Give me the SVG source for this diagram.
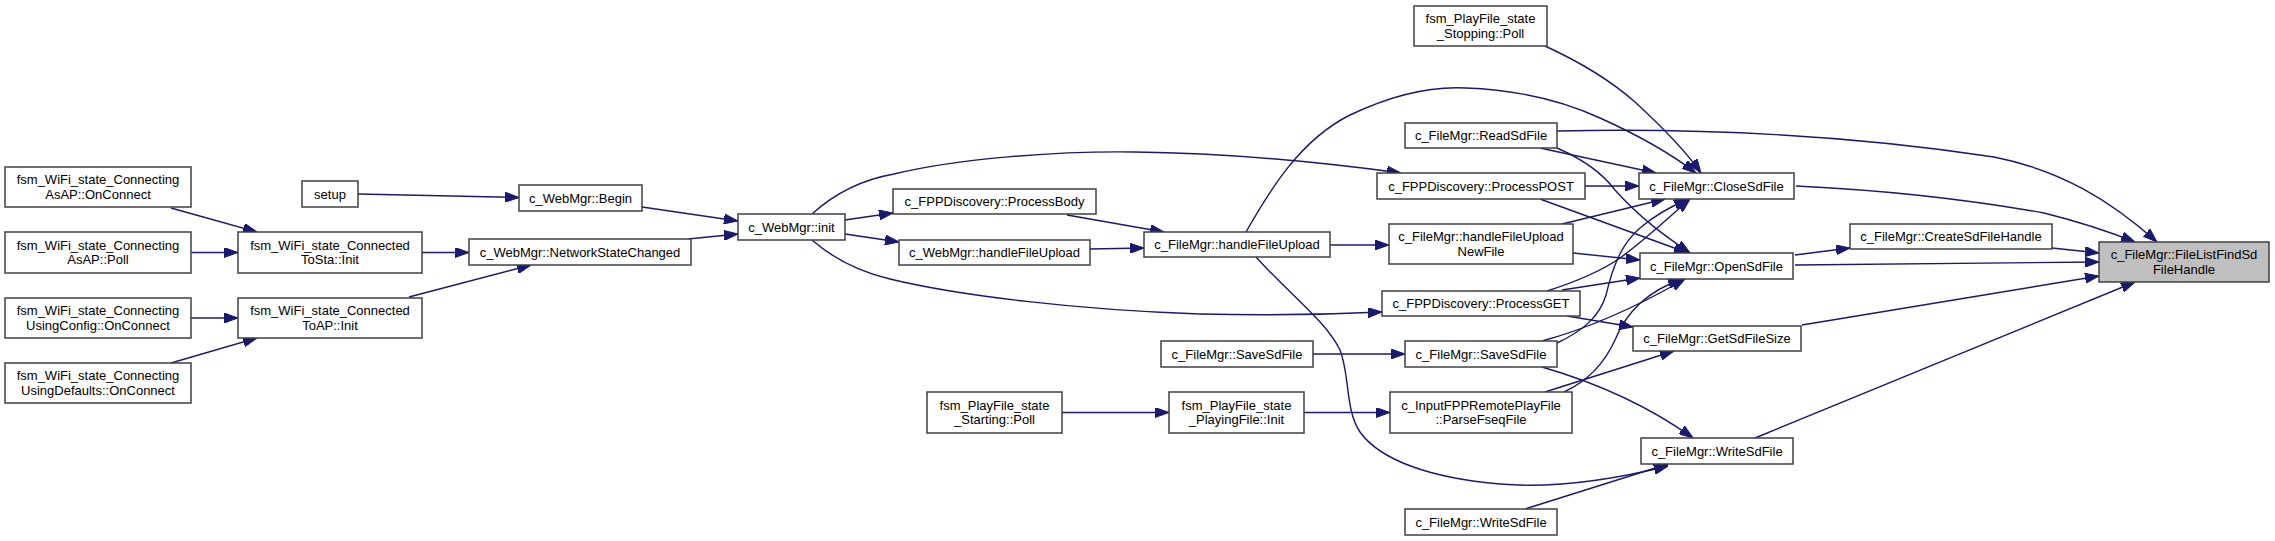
<svg xmlns="http://www.w3.org/2000/svg" width="2275" height="541" viewBox="0 0 2275 541">
<style>
.n rect{fill:#fff;stroke:#404040;stroke-width:1.5}
.n.t rect{fill:#bfbfbf}
.n text{font-family:"Liberation Sans",Arial,sans-serif;font-size:13px;text-anchor:middle;fill:#000}
#edges path{fill:none;stroke:#191970;stroke-width:1.4;marker-end:url(#ah)}
</style>
<defs>
<marker id="ah" markerWidth="14" markerHeight="10" refX="14" refY="5" orient="auto" markerUnits="userSpaceOnUse">
<path d="M0,0 L14,5 L0,10 z" fill="#191970" stroke="#191970" stroke-width="1"/>
</marker>
</defs>
<rect width="2275" height="541" fill="#fff"/>
<g id="edges">
<path d="M171,208 L257,232"/>
<path d="M191,252.5 L238,252.5"/>
<path d="M191,318 L238,318"/>
<path d="M171,363 L257,338"/>
<path d="M358,194 L519,197.5"/>
<path d="M422,252.5 L469,252.5"/>
<path d="M409,297 L531,265"/>
<path d="M642,207 L738,221"/>
<path d="M688,239 L738,234"/>
<path d="M845,220 L893,213"/>
<path d="M845,234 L899,242"/>
<path d="M812,214 C835,193 860,180 894,174 C960,158 1060,151 1134,152 C1230,153 1320,162 1401,173"/>
<path d="M812,240 C835,260 860,272 890,279 C960,296 1080,310 1200,314 C1280,316 1340,314 1382,312"/>
<path d="M1067,215 L1164,232"/>
<path d="M1090,249 L1144,248"/>
<path d="M1330,245 L1389,245"/>
<path d="M1246,232 C1270,190 1300,140 1350,115 C1390,96 1430,86 1466,88 C1520,90 1565,102 1600,118 C1640,136 1670,153 1696,173"/>
<path d="M1256,257 C1290,295 1325,320 1340,350 C1350,375 1345,410 1360,432 C1380,460 1430,478 1500,484 C1560,489 1620,478 1668,466"/>
<path d="M1562,224 L1665,199"/>
<path d="M1573,253 L1640,260"/>
<path d="M1540,148 L1656,173"/>
<path d="M1557,148 C1580,158 1600,170 1615,190 C1640,218 1665,236 1690,253"/>
<path d="M1557,131 C1700,128 1850,135 1994,157 C2060,170 2110,200 2157,242"/>
<path d="M1585,186 L1639,186"/>
<path d="M1540,199 L1688,253"/>
<path d="M1545,46 C1580,62 1610,80 1635,102 C1660,125 1685,150 1701,173"/>
<path d="M1562,290 L1640,278"/>
<path d="M1547,291 C1575,282 1600,272 1620,258 C1645,240 1668,218 1690,199"/>
<path d="M1567,316 L1633,327"/>
<path d="M1542,341 C1590,328 1640,305 1685,279"/>
<path d="M1557,343 C1585,330 1600,315 1606,295 C1612,270 1620,245 1640,228 C1655,215 1672,206 1688,199"/>
<path d="M1542,367 C1580,378 1640,400 1693,438"/>
<path d="M1545,392 L1674,351"/>
<path d="M1564,392 C1590,380 1605,362 1615,340 C1625,315 1645,292 1682,279"/>
<path d="M1313,354 L1405,354"/>
<path d="M1062,412.5 L1169,412.5"/>
<path d="M1304,412.5 L1390,412.5"/>
<path d="M1525,509 L1668,464"/>
<path d="M1796,186 C1880,190 1960,198 2044,213 C2080,222 2110,232 2135,242"/>
<path d="M1795,255 L1850,248"/>
<path d="M1795,265 L2099,262"/>
<path d="M2052,248 L2099,253"/>
<path d="M1802,325 L2099,276"/>
<path d="M1755,438 L2135,282"/>
</g>
<g id="n_asap_oc" class="n"><rect x="5" y="167" width="186" height="40"/><text x="98" y="184">fsm_WiFi_state_Connecting</text><text x="98" y="198.5">AsAP::OnConnect</text></g>
<g id="n_asap_poll" class="n"><rect x="5" y="232" width="186" height="41"/><text x="98" y="249.5">fsm_WiFi_state_Connecting</text><text x="98" y="264">AsAP::Poll</text></g>
<g id="n_cfg_oc" class="n"><rect x="5" y="298" width="186" height="40"/><text x="98" y="315">fsm_WiFi_state_Connecting</text><text x="98" y="329.5">UsingConfig::OnConnect</text></g>
<g id="n_def_oc" class="n"><rect x="5" y="363" width="186" height="40"/><text x="98" y="380">fsm_WiFi_state_Connecting</text><text x="98" y="394.5">UsingDefaults::OnConnect</text></g>
<g id="n_tosta" class="n"><rect x="238" y="232" width="184" height="41"/><text x="330" y="249.5">fsm_WiFi_state_Connected</text><text x="330" y="264">ToSta::Init</text></g>
<g id="n_toap" class="n"><rect x="238" y="298" width="184" height="40"/><text x="330" y="315">fsm_WiFi_state_Connected</text><text x="330" y="329.5">ToAP::Init</text></g>
<g id="n_setup" class="n"><rect x="302" y="181" width="56" height="26"/><text x="330" y="198.5">setup</text></g>
<g id="n_begin" class="n"><rect x="519" y="185" width="123" height="26"/><text x="580.5" y="202.5">c_WebMgr::Begin</text></g>
<g id="n_nsc" class="n"><rect x="469" y="239" width="222" height="26"/><text x="580" y="256.5">c_WebMgr::NetworkStateChanged</text></g>
<g id="n_init" class="n"><rect x="738" y="214" width="107" height="26"/><text x="791.5" y="231.5">c_WebMgr::init</text></g>
<g id="n_pbody" class="n"><rect x="893" y="189" width="203" height="25"/><text x="994.5" y="206">c_FPPDiscovery::ProcessBody</text></g>
<g id="n_wm_hfu" class="n"><rect x="899" y="240" width="191" height="25"/><text x="994.5" y="257">c_WebMgr::handleFileUpload</text></g>
<g id="n_fm_hfu" class="n"><rect x="1144" y="232" width="186" height="25"/><text x="1237" y="249">c_FileMgr::handleFileUpload</text></g>
<g id="n_stopping" class="n"><rect x="1414" y="6" width="133" height="40"/><text x="1480.5" y="23">fsm_PlayFile_state</text><text x="1480.5" y="37.5">_Stopping::Poll</text></g>
<g id="n_read" class="n"><rect x="1405" y="123" width="152" height="25"/><text x="1481" y="140">c_FileMgr::ReadSdFile</text></g>
<g id="n_post" class="n"><rect x="1377" y="173" width="208" height="26"/><text x="1481" y="190.5">c_FPPDiscovery::ProcessPOST</text></g>
<g id="n_hfunf" class="n"><rect x="1389" y="224" width="184" height="40"/><text x="1481" y="241">c_FileMgr::handleFileUpload</text><text x="1481" y="255.5">NewFile</text></g>
<g id="n_get" class="n"><rect x="1382" y="291" width="198" height="25"/><text x="1481" y="308">c_FPPDiscovery::ProcessGET</text></g>
<g id="n_save_l" class="n"><rect x="1161" y="341" width="152" height="26"/><text x="1237" y="358.5">c_FileMgr::SaveSdFile</text></g>
<g id="n_save" class="n"><rect x="1405" y="341" width="152" height="26"/><text x="1481" y="358.5">c_FileMgr::SaveSdFile</text></g>
<g id="n_starting" class="n"><rect x="927" y="392" width="135" height="41"/><text x="994.5" y="409.5">fsm_PlayFile_state</text><text x="994.5" y="424">_Starting::Poll</text></g>
<g id="n_playing" class="n"><rect x="1169" y="392" width="135" height="41"/><text x="1236.5" y="409.5">fsm_PlayFile_state</text><text x="1236.5" y="424">_PlayingFile::Init</text></g>
<g id="n_parse" class="n"><rect x="1390" y="392" width="182" height="41"/><text x="1481" y="409.5">c_InputFPPRemotePlayFile</text><text x="1481" y="424">::ParseFseqFile</text></g>
<g id="n_write_l" class="n"><rect x="1405" y="509" width="152" height="26"/><text x="1481" y="526.5">c_FileMgr::WriteSdFile</text></g>
<g id="n_close" class="n"><rect x="1639" y="173" width="155" height="26"/><text x="1716.5" y="190.5">c_FileMgr::CloseSdFile</text></g>
<g id="n_open" class="n"><rect x="1640" y="253" width="153" height="26"/><text x="1716.5" y="270.5">c_FileMgr::OpenSdFile</text></g>
<g id="n_getsize" class="n"><rect x="1633" y="326" width="168" height="25"/><text x="1717" y="343">c_FileMgr::GetSdFileSize</text></g>
<g id="n_write" class="n"><rect x="1641" y="438" width="152" height="26"/><text x="1717" y="455.5">c_FileMgr::WriteSdFile</text></g>
<g id="n_create" class="n"><rect x="1850" y="224" width="202" height="25"/><text x="1951" y="241">c_FileMgr::CreateSdFileHandle</text></g>
<g id="n_target" class="n t"><rect x="2099" y="242" width="170" height="40"/><text x="2184" y="259">c_FileMgr::FileListFindSd</text><text x="2184" y="273.5">FileHandle</text></g>
</svg>
